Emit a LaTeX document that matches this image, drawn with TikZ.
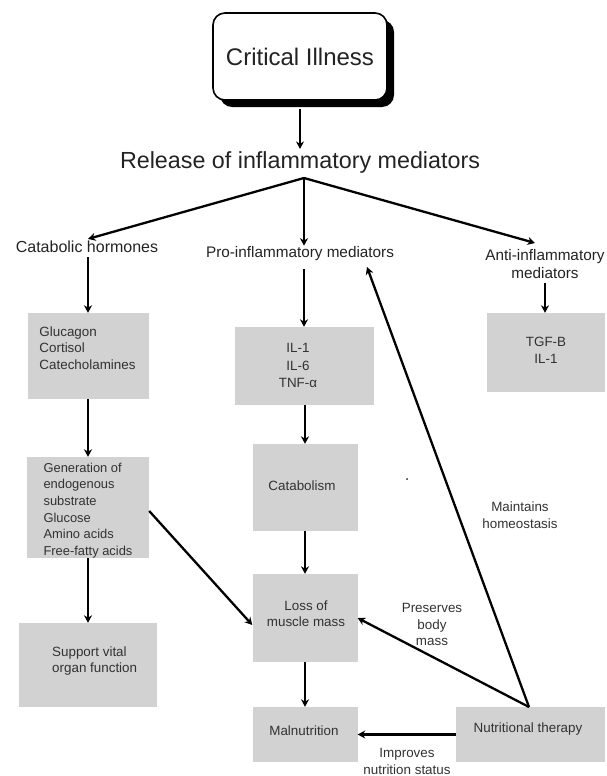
\documentclass[tikz,border=0pt]{standalone}
\usepackage{fontspec}
\setmainfont{Liberation Sans}
\usetikzlibrary{arrows.meta,shadows,calc}
\definecolor{boxgray}{RGB}{210,210,210}
\definecolor{txt}{RGB}{50,50,50}
\definecolor{lbltxt}{RGB}{35,35,35}
\begin{document}
\begin{tikzpicture}[x=1pt,y=-1pt,
  box/.style={draw=none,fill=boxgray,inner sep=0pt},
  btxt/.style={text=txt,font=\fontsize{13.4}{16.6}\selectfont,inner sep=0pt,align=left},
  ctxt/.style={text=txt,font=\fontsize{13.4}{16.6}\selectfont,inner sep=0pt,align=center},
  lbl/.style={text=lbltxt,font=\fontsize{15.3}{18}\selectfont,inner sep=1pt,align=center},
  arr/.style={line width=2.3pt,-{Stealth[length=7.5pt,width=8pt]}}]
\useasboundingbox (0,0) rectangle (607,776);

% top
\node[draw=black,line width=1.6pt,fill=white,rounded corners=12pt,
      minimum width=174pt,minimum height=87pt,
      drop shadow={shadow xshift=7pt,shadow yshift=-7pt,fill=black,opacity=1},
      font=\fontsize{24}{27}\selectfont,text=lbltxt] (crit) at (300,56.5) {Critical Illness};
\node[font=\fontsize{23.3}{26}\selectfont,text=lbltxt,inner sep=0pt] (rel) at (300,162) {Release of inflammatory mediators};
\coordinate (apex) at (304,178);

% category labels
\node[lbl,font=\fontsize{16}{18}\selectfont] (cat) at (87,247) {Catabolic hormones};
\node[lbl] (pro) at (300,254) {Pro-inflammatory mediators};
\node[lbl] (anti) at (545,264) {Anti-inflammatory\\mediators};

% left column
\node[box,minimum width=121pt,minimum height=86pt] (gluc) at (88,356) {};
\node[btxt] (glucT) at (87.5,348) {Glucagon\\Cortisol\\Catecholamines};
\node[box,minimum width=122pt,minimum height=101pt] (gen) at (88,507.5) {};
\node[btxt,font=\fontsize{12.9}{16.6}\selectfont] (genT) at (88,510.5) {Generation of\\endogenous\\substrate\\Glucose\\Amino acids\\Free-fatty acids};
\node[box,minimum width=138pt,minimum height=84pt] (sup) at (88,665) {};
\node[btxt,anchor=west] (supT) at (52,661) {Support vital\\organ function};

% middle column
\node[box,minimum width=139pt,minimum height=78pt] (il) at (304,366) {};
\node[ctxt,font=\fontsize{13.4}{17.5}\selectfont] (ilT) at (298,365.5) {IL-1\\IL-6\\TNF-α};
\node[box,minimum width=105pt,minimum height=87pt] (catab) at (305,487.5) {};
\node[ctxt] (catabT) at (302,486) {Catabolism};
\node[box,minimum width=105pt,minimum height=88pt] (loss) at (305,618) {};
\node[ctxt,font=\fontsize{13.4}{16}\selectfont] (lossT) at (306,614) {Loss of\\muscle mass};
\node[box,minimum width=105pt,minimum height=55pt] (mal) at (305,734.5) {};
\node[ctxt] (malT) at (304,731) {Malnutrition};

% right column
\node[box,minimum width=118pt,minimum height=79pt] (tgf) at (546,352.5) {};
\node[ctxt,font=\fontsize{13.4}{17}\selectfont] (tgfT) at (546,350.5) {TGF-B\\IL-1};
\node[box,minimum width=149pt,minimum height=55pt] (nut) at (530.5,734.5) {};
\node[ctxt] (nutT) at (528,729) {Nutritional therapy};

% edge labels
\node[ctxt] (impT) at (407,761.5) {Improves\\nutrition status};
\node[ctxt] (presT) at (432,624.5) {Preserves\\body\\mass};
\node[ctxt] (mainT) at (520,515) {Maintains\\homeostasis};
\fill[txt] (407,479) circle (1pt);

% connectors
\coordinate (nt) at (529,707);
\coordinate (protip) at (367,267);
\coordinate (antitip) at (535,243);

\draw[arr] ([yshift=-8pt]crit.south) -- ([yshift=2pt]rel.north);
\draw[arr] (apex) -- ([xshift=1pt,yshift=1pt]cat.north);
\draw[arr] (apex) -- (apex |- pro.north);
\draw[arr] (apex) -- (antitip);

\draw[arr] ([yshift=-3pt]cat.south -| gluc.north) -- (gluc.north);
\draw[arr] (gluc.south) -- (gen.north);
\draw[arr] (gen.south) -- (sup.north);
\draw[arr] ([yshift=-3.5pt]gen.east) -- ([yshift=-7pt]loss.west);

\draw[arr] ([yshift=-7pt]pro.south -| apex) -- (apex |- il.north);
\draw[arr] ([xshift=1pt]il.south) -- ([xshift=1pt]il.south |- catab.north);
\draw[arr] (catab.south) -- (loss.north);
\draw[arr] (loss.south) -- (mal.north);

\draw[arr] ([yshift=-3pt]anti.south) -- (anti.south |- tgf.north);

\draw[arr] (nut.west) -- (mal.east);
\draw[arr] (nt) -- (loss.east);
\draw[arr] (nt) -- (protip);
\end{tikzpicture}
\end{document}
